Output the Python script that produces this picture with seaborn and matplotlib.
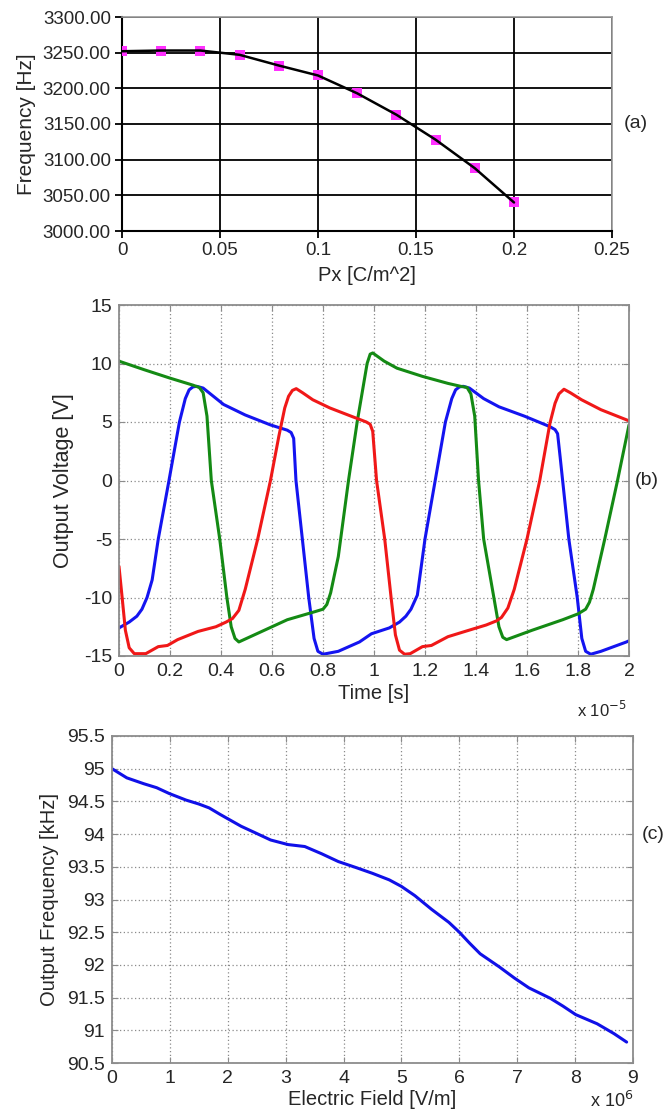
import matplotlib
matplotlib.use("Agg")
import matplotlib.pyplot as plt
import matplotlib.ticker as mticker
import matplotlib.transforms as mtrans
import pandas as pd
import seaborn as sns

# ---- panel (a): resonant frequency vs polarization ----
px_vals = [0.0, 0.02, 0.04, 0.06, 0.08, 0.10, 0.12, 0.14, 0.16, 0.18, 0.20]
freq_hz = [3252, 3253, 3253, 3247, 3232, 3218, 3193, 3163, 3128, 3088, 3040]

# ---- panel (b): three oscillator outputs (time in units of 1e-5 s) ----
blue_t = [0.0, 0.04, 0.07, 0.09, 0.11, 0.13, 0.154, 0.196, 0.237, 0.26, 0.275, 0.29,
          0.305, 0.33, 0.37, 0.41, 0.495, 0.594, 0.66, 0.675, 0.685, 0.694, 0.719, 0.744,
          0.765, 0.78, 0.80, 0.86, 0.943, 0.99, 1.06, 1.10, 1.125, 1.145, 1.17, 1.2,
          1.24, 1.28, 1.305, 1.32, 1.335, 1.35, 1.374, 1.43, 1.49, 1.59, 1.69, 1.71,
          1.72, 1.73, 1.764, 1.797, 1.815, 1.83, 1.85, 1.89, 1.99, 2.0]
blue_v = [-12.6, -12.1, -11.6, -11.0, -10.0, -8.5, -5.0, 0.0, 5.0, 7.0, 7.75, 8.0,
          8.05, 7.9, 7.2, 6.5, 5.6, 4.75, 4.3, 4.1, 3.6, 0.0, -5.0, -10.0,
          -13.5, -14.6, -14.85, -14.6, -13.8, -13.1, -12.6, -12.1, -11.6, -11.0, -9.8, -5.0,
          0.0, 5.0, 7.0, 7.75, 8.0, 8.05, 7.9, 7.0, 6.3, 5.5, 4.6, 4.35,
          4.0, 2.0, -5.0, -10.0, -13.5, -14.6, -14.85, -14.6, -13.8, -13.7]

green_t = [0.0, 0.1, 0.2, 0.29, 0.315, 0.33, 0.345, 0.362, 0.395, 0.423, 0.44, 0.455,
           0.47, 0.56, 0.66, 0.77, 0.80, 0.815, 0.83, 0.86, 0.90, 0.934, 0.973, 0.985,
           0.995, 1.04, 1.09, 1.19, 1.29, 1.34, 1.365, 1.38, 1.395, 1.41, 1.43, 1.47,
           1.49, 1.505, 1.52, 1.62, 1.74, 1.80, 1.83, 1.845, 1.86, 1.905, 1.955, 2.0]
green_v = [10.2, 9.46, 8.75, 8.15, 7.95, 7.5, 5.5, 0.0, -5.0, -10.0, -12.5, -13.5,
           -13.8, -12.9, -11.9, -11.2, -11.0, -10.6, -9.6, -6.5, 0.0, 5.0, 10.0, 10.8,
           10.9, 10.2, 9.6, 8.9, 8.3, 8.05, 7.95, 7.4, 5.5, 0.0, -5.0, -10.0,
           -12.5, -13.4, -13.6, -12.8, -11.9, -11.4, -11.0, -10.4, -9.3, -5.0, 0.0, 4.75]

red_t = [0.0, 0.01, 0.025, 0.04, 0.06, 0.105, 0.154, 0.19, 0.23, 0.31, 0.38, 0.42,
         0.445, 0.47, 0.495, 0.544, 0.594, 0.627, 0.65, 0.665, 0.68, 0.695, 0.72, 0.76,
         0.827, 0.91, 0.97, 0.985, 0.995, 1.01, 1.042, 1.067, 1.084, 1.1, 1.12, 1.142,
         1.19, 1.225, 1.29, 1.357, 1.44, 1.48, 1.5, 1.525, 1.55, 1.6, 1.65, 1.69, 1.71,
         1.725, 1.745, 1.77, 1.814, 1.89, 2.0]
red_v = [-7.35, -9.5, -12.8, -14.3, -14.8, -14.8, -14.2, -14.1, -13.6, -12.9, -12.5, -12.1,
         -11.8, -11.1, -9.3, -5.0, 0.0, 3.8, 6.2, 7.2, 7.7, 7.85, 7.5, 6.9,
         6.2, 5.5, 5.0, 4.8, 4.2, 0.0, -5.0, -10.0, -13.2, -14.5, -14.85, -14.8,
         -14.2, -14.1, -13.35, -12.9, -12.35, -12.0, -11.7, -10.9, -9.3, -5.0, 0.0, 4.9, 6.6,
         7.4, 7.8, 7.5, 6.9, 6.05, 5.1]

# ---- panel (c): output frequency vs electric field (field in units of 1e6 V/m) ----
field = [0.0, 0.256, 0.55, 0.77, 0.99, 1.28, 1.5, 1.68, 1.87, 2.01, 2.23, 2.45, 2.74,
         3.04, 3.33, 3.62, 3.91, 4.21, 4.5, 4.79, 5.0, 5.23, 5.52, 5.82, 6.0, 6.18,
         6.36, 6.69, 6.95, 7.2, 7.57, 7.79, 8.01, 8.38, 8.67, 8.89]
out_khz = [95.0, 94.86, 94.77, 94.71, 94.62, 94.52, 94.46, 94.40, 94.30, 94.23, 94.12,
           94.03, 93.91, 93.84, 93.81, 93.70, 93.58, 93.49, 93.40, 93.30, 93.2, 93.06,
           92.85, 92.65, 92.5, 92.33, 92.17, 91.97, 91.80, 91.65, 91.49, 91.37, 91.24,
           91.1, 90.95, 90.82]

sns.set_style("white")
plt.rcParams["font.family"] = ["Liberation Sans", "DejaVu Sans"]

W, H = 663, 1116
fig = plt.figure(figsize=(W / 100, H / 100), dpi=100)


def box(left, top, right, bottom):
    return [left / W, 1 - bottom / H, (right - left) / W, (bottom - top) / H]


def side_tag(ax, x_px, y_data, text):
    tr = mtrans.blended_transform_factory(fig.transFigure, ax.transData)
    ax.text(x_px / W, y_data, text, transform=tr, fontsize=14, va="center",
            ha="left", clip_on=False)


# ================= (a) =================
ax1 = fig.add_axes(box(122, 17, 612, 231))
sns.scatterplot(x=px_vals, y=freq_hz, ax=ax1, marker="s", s=55, color="#ff30ff",
                edgecolor="#ff30ff", linewidth=0, zorder=3)
sns.lineplot(x=px_vals, y=freq_hz, ax=ax1, color="black", lw=1.8, zorder=4)
ax1.set_xlim(0, 0.25)
ax1.set_ylim(3000, 3300)
ax1.xaxis.set_major_locator(mticker.MultipleLocator(0.05))
ax1.yaxis.set_major_locator(mticker.MultipleLocator(50))
ax1.xaxis.set_major_formatter(mticker.FuncFormatter(lambda v, p: f"{v:g}"))
ax1.yaxis.set_major_formatter(mticker.FormatStrFormatter("%.2f"))
ax1.grid(True, color="black", lw=1.3)
ax1.set_axisbelow(True)
for s in ["left", "bottom"]:
    ax1.spines[s].set_color("black")
    ax1.spines[s].set_linewidth(1.5)
for s in ["top", "right"]:
    ax1.spines[s].set_color("#9a9a9a")
    ax1.spines[s].set_linewidth(1.2)
ax1.tick_params(direction="out", length=5, width=1.3, color="black",
                labelsize=13.5, pad=3, left=True, bottom=True)
ax1.set_xlabel("Px [C/m^2]", fontsize=14.5, labelpad=5)
ax1.set_ylabel("Frequency [Hz]", fontsize=15, labelpad=5)
side_tag(ax1, 624, 3150, "(a)")

# ================= (b) & (c) shared look =================
narrow = ["Liberation Sans Narrow", "Liberation Sans", "DejaVu Sans"]


def matlab_axes(ax):
    ax.grid(True, color="#8a8a8a", lw=0.9, ls=(0, (1, 2)))
    ax.set_axisbelow(True)
    for s in ax.spines.values():
        s.set_color("#8c8c8c")
        s.set_linewidth(1.3)
    ax.tick_params(direction="in", length=4, width=0.8, color="#8c8c8c",
                   labelsize=14, pad=5, left=True, bottom=True, top=True, right=True)
    for lab in ax.get_xticklabels() + ax.get_yticklabels():
        lab.set_family(narrow)


# ================= (b) =================
ax2 = fig.add_axes(box(119, 305, 629, 656))
wave = pd.concat([
    pd.DataFrame({"t": blue_t, "v": blue_v, "ch": "A"}),
    pd.DataFrame({"t": green_t, "v": green_v, "ch": "B"}),
    pd.DataFrame({"t": red_t, "v": red_v, "ch": "C"}),
])
sns.lineplot(data=wave, x="t", y="v", hue="ch", ax=ax2, sort=False, estimator=None,
             palette={"A": "#1414f0", "B": "#148a14", "C": "#f01818"}, lw=2.2,
             legend=False)
ax2.set_xlim(0, 2)
ax2.set_ylim(-15, 15)
ax2.xaxis.set_major_locator(mticker.MultipleLocator(0.2))
ax2.yaxis.set_major_locator(mticker.MultipleLocator(5))
ax2.xaxis.set_major_formatter(mticker.FuncFormatter(lambda v, p: f"{v:g}"))
ax2.yaxis.set_major_formatter(mticker.FuncFormatter(lambda v, p: f"{v:g}"))
matlab_axes(ax2)
ax2.set_xlabel("Time [s]", fontsize=14.5, family=narrow, labelpad=3)
ax2.set_ylabel("Output Voltage [V]", fontsize=15.5, family=narrow, labelpad=7)
ax2.text(0.995, -0.125, r"x 10$^{-5}$", transform=ax2.transAxes, ha="right", va="top",
         fontsize=12, family=narrow)
side_tag(ax2, 635, 0, "(b)")

# ================= (c) =================
ax3 = fig.add_axes(box(112, 736, 633, 1063))
sns.lineplot(x=field, y=out_khz, ax=ax3, color="#1010e8", lw=2.2)
ax3.set_xlim(0, 9)
ax3.set_ylim(90.5, 95.5)
ax3.xaxis.set_major_locator(mticker.MultipleLocator(1))
ax3.yaxis.set_major_locator(mticker.MultipleLocator(0.5))
ax3.xaxis.set_major_formatter(mticker.FuncFormatter(lambda v, p: f"{v:g}"))
ax3.yaxis.set_major_formatter(mticker.FuncFormatter(lambda v, p: f"{v:g}"))
matlab_axes(ax3)
ax3.set_xlabel("Electric Field [V/m]", fontsize=14.5, family=narrow, labelpad=2)
ax3.set_ylabel("Output Frequency [kHz]", fontsize=14.5, family=narrow, labelpad=6)
ax3.text(1.0, -0.085, r"x 10$^{6}$", transform=ax3.transAxes, ha="right", va="top",
         fontsize=13, family=narrow)
side_tag(ax3, 642, 94, "(c)")

fig.savefig("out.png", dpi=100, facecolor="white")
